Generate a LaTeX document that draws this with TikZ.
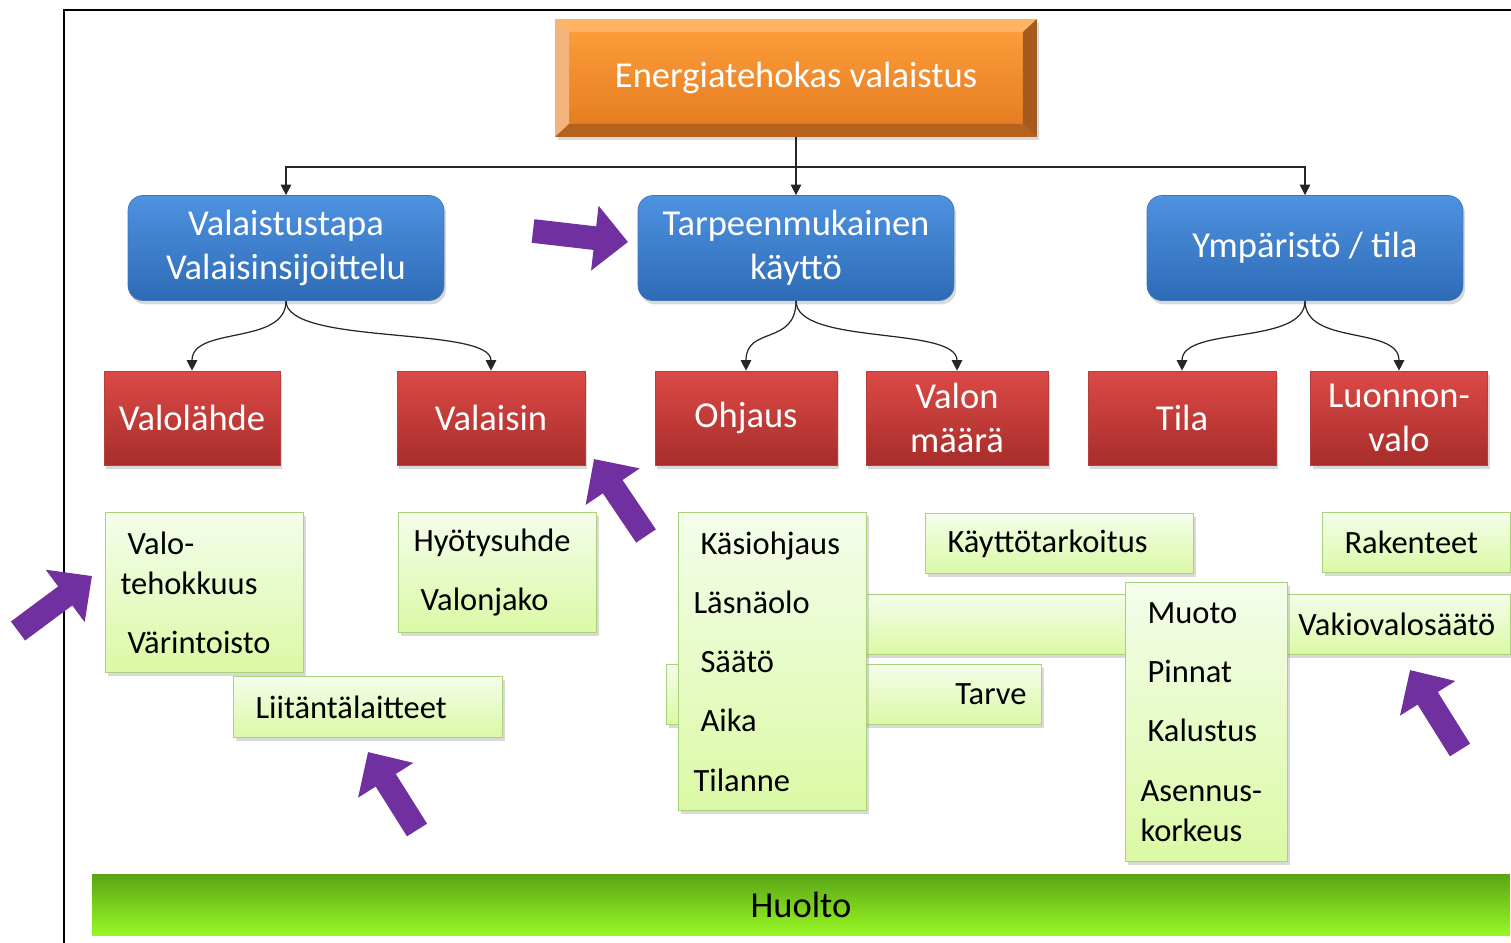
\documentclass[tikz,border=0pt]{standalone}
\usepackage{fontspec}
\setmainfont{Carlito}
\usetikzlibrary{arrows.meta,shadows}

\definecolor{orinA}{HTML}{FF9F3C}
\definecolor{orinB}{HTML}{E27A20}
\definecolor{orinT}{HTML}{FFB463}
\definecolor{orinL}{HTML}{F3B47C}
\definecolor{orinR}{HTML}{A65B1E}
\definecolor{orinD}{HTML}{B5621F}
\definecolor{bluA}{HTML}{4E92E0}
\definecolor{bluB}{HTML}{2E6BB6}
\definecolor{bluline}{HTML}{3D75B9}
\definecolor{redA}{HTML}{DC4A46}
\definecolor{redB}{HTML}{A72D2B}
\definecolor{redline}{HTML}{B3403C}
\definecolor{grA}{HTML}{F4FDEB}
\definecolor{grB}{HTML}{DBF9A5}
\definecolor{grline}{HTML}{A9D27A}
\definecolor{huoA}{HTML}{5AA414}
\definecolor{huoB}{HTML}{98F826}
\definecolor{purp}{HTML}{7030A0}

\newcommand\boxfont{\fontsize{20.8}{25}\selectfont}
\newcommand\listfont{\fontsize{18.5}{22.7}\selectfont}

\begin{document}
\begin{tikzpicture}[x=0.02cm, y=-0.02cm,
    conn/.style={draw=black!85, line width=0.7pt, -{Triangle[length=6pt,width=6pt]}},
    boxshadow/.style={drop shadow={opacity=0.3, shadow xshift=1.2pt, shadow yshift=-2.2pt}},
    topbox/.style={boxshadow, top color=orinA, bottom color=orinB, inner sep=0pt,
        minimum width=9.62cm, minimum height=2.34cm, text=white, font=\boxfont},
    bluebox/.style={boxshadow, rounded corners=0.3cm, draw=bluline, line width=0.4pt,
        top color=bluA, bottom color=bluB, minimum width=6.32cm, minimum height=2.1cm,
        inner sep=0pt, text=white, font=\boxfont, align=center},
    redbox/.style={boxshadow, draw=redline, line width=0.4pt, top color=redA, bottom color=redB,
        minimum height=1.88cm, inner sep=0pt, text=white, font=\boxfont, align=center},
    gbox/.style={boxshadow, draw=grline, line width=0.6pt, top color=grA, bottom color=grB,
        inner xsep=0.3cm, inner ysep=0pt, font=\listfont, align=left, anchor=north west},
    pointer/.style={draw=purp, line width=13.5pt, -{Triangle[length=19pt,width=36pt]}}
]
\useasboundingbox (0,0) rectangle (1511,943);

% kehys
\draw[line width=1.6pt] (64,943) -- (64,10) -- (1511,10);

% ylin laatikko
\node[topbox] (top) at (796,78) {Energiatehokas valaistus};
\fill[orinT] (top.north west) -- (top.north east) -- ([shift={(-14,13)}]top.north east) -- ([shift={(14,13)}]top.north west) -- cycle;
\fill[orinL] (top.north west) -- ([shift={(14,13)}]top.north west) -- ([shift={(14,-13)}]top.south west) -- (top.south west) -- cycle;
\fill[orinR] (top.north east) -- ([shift={(-14,13)}]top.north east) -- ([shift={(-14,-13)}]top.south east) -- (top.south east) -- cycle;
\fill[orinD] (top.south west) -- ([shift={(14,-13)}]top.south west) -- ([shift={(-14,-13)}]top.south east) -- (top.south east) -- cycle;

% toinen taso
\node[bluebox] (b1) at (286,248) {Valaistustapa\\Valaisinsijoittelu};
\node[bluebox] (b2) at (796,248) {Tarpeenmukainen\\käyttö};
\node[bluebox] (b3) at (1305,248) {Ympäristö / tila};

\coordinate (bus) at (796,167);
\draw[line width=0.7pt, draw=black!85] (top.south) -- (top.south |- bus);
\draw[conn] (top.south |- bus) -| (b1.north);
\draw[conn] (top.south |- bus) -| (b3.north);
\draw[conn] (top.south) -- (b2.north);

% kolmas taso
\node[redbox, minimum width=3.52cm] (r1) at (192,418) {Valolähde};
\node[redbox, minimum width=3.76cm] (r2) at (491,418) {Valaisin};
\node[redbox, minimum width=3.64cm] (r3) at (746,418) {Ohjaus};
\node[redbox, minimum width=3.64cm] (r4) at (957,418) {Valon\\määrä};
\node[redbox, minimum width=3.76cm] (r5) at (1182,418) {Tila};
\node[redbox, minimum width=3.54cm] (r6) at (1399,418) {Luonnon-\\valo};

\draw[conn] (b1.south) .. controls +(0,45) and +(0,-45) .. (r1.north);
\draw[conn] (b1.south) .. controls +(0,45) and +(0,-45) .. (r2.north);
\draw[conn] (b2.south) .. controls +(0,45) and +(0,-45) .. (r3.north);
\draw[conn] (b2.south) .. controls +(0,45) and +(0,-45) .. (r4.north);
\draw[conn] (b3.south) .. controls +(0,45) and +(0,-45) .. (r5.north);
\draw[conn] (b3.south) .. controls +(0,45) and +(0,-45) .. (r6.north);

% vihreat laatikot, takimmaiset ensin
\node[gbox, text width=12.8cm, minimum height=1.2cm, align=right] (vakio) at (840,594) {Vakiovalosäätö};
\node[gbox, text width=6.9cm, minimum height=1.2cm, align=right] (tarve) at (666,664) {Tarve};

\node[gbox, text width=3.36cm, minimum height=3.2cm] (g1) at (105,512)
    {\hspace*{4pt}Valo-\\tehokkuus\\[11pt]\hspace*{4pt}Värintoisto};
\node[gbox, text width=4.78cm, minimum height=1.22cm] (g2) at (233,676) {\hspace*{4pt}Liitäntälaitteet};
\node[gbox, text width=3.36cm, minimum height=2.4cm] (g3) at (398,512)
    {Hyötysuhde\\[11pt]\hspace*{4pt}Valonjako};
\node[gbox, text width=3.16cm, minimum height=5.96cm] (g6) at (678,512)
    {\hspace*{4pt}Käsiohjaus\\[11pt]Läsnäolo\\[11pt]\hspace*{4pt}Säätö\\[11pt]\hspace*{4pt}Aika\\[11pt]Tilanne};
\node[gbox, text width=4.76cm, minimum height=1.2cm] (g7) at (925,513) {\hspace*{4pt}Käyttötarkoitus};
\node[gbox, text width=3.16cm, minimum height=1.2cm] (g8) at (1322,512) {\hspace*{4pt}Rakenteet};
\node[gbox, text width=2.64cm, minimum height=5.58cm] (g9) at (1125,582)
    {\hspace*{4pt}Muoto\\[11pt]\hspace*{4pt}Pinnat\\[11pt]\hspace*{4pt}Kalustus\\[11pt]Asennus-\\korkeus};

% huolto
\node[top color=huoA, bottom color=huoB, minimum width=28.36cm, minimum height=1.22cm,
    inner sep=0pt, font=\boxfont] (huolto) at (801,904.5) {Huolto};

% violetit nuolet
\coordinate (p1a) at (533,231);  \coordinate (p1b) at (628,242);
\coordinate (p2a) at (646,536);  \coordinate (p2b) at (594,459);
\coordinate (p3a) at (18,631);   \coordinate (p3b) at (92,576);
\coordinate (p4a) at (417,830);  \coordinate (p4b) at (368,752);
\coordinate (p5a) at (1460,750); \coordinate (p5b) at (1410,670);
\draw[pointer] (p1a) -- (p1b);
\draw[pointer] (p2a) -- (p2b);
\draw[pointer] (p3a) -- (p3b);
\draw[pointer] (p4a) -- (p4b);
\draw[pointer] (p5a) -- (p5b);
\end{tikzpicture}
\end{document}
